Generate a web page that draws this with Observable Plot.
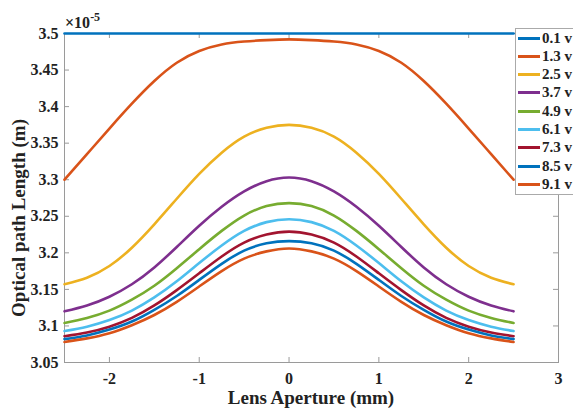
<!DOCTYPE html>
<html>
<head>
<meta charset="utf-8">
<script src="https://cdn.jsdelivr.net/npm/d3@7"></script>
<script src="https://cdn.jsdelivr.net/npm/@observablehq/plot@0.6"></script>
<style>
  html, body { margin: 0; padding: 0; background: #fff; }
  #wrap { position: relative; width: 573px; height: 408px; overflow: hidden; font-family: "Liberation Serif", "Times New Roman", serif; font-weight: bold; color: #222; }
  #chart { position: absolute; left: 0; top: 0; }
  .lbl { position: absolute; white-space: nowrap; font-size: 19px; }
  #ylab { left: 19px; top: 218px; transform: translate(-50%, -50%) rotate(-90deg); }
  #xlab { left: 311px; top: 398px; transform: translate(-50%, -50%); }
  #exp { left: 65px; top: 11px; font-size: 16px; }
  #exp sup { font-size: 12px; position: relative; top: -1px; }
  #legend { position: absolute; left: 515px; top: 28px; width: 70px; height: 167px; border: 1px solid #aaa; background: #fff; box-sizing: border-box; }
  .row { position: absolute; left: 0; height: 18px; display: flex; align-items: center; font-size: 15px; }
  .row .sw { display: inline-block; width: 22px; height: 3px; margin-left: 2px; margin-right: 2px; }
</style>
</head>
<body>
<div id="wrap">
  <div id="chart"></div>
  <div id="exp" class="lbl">×10<sup>-5</sup></div>
  <div id="ylab" class="lbl">Optical path Length (m)</div>
  <div id="xlab" class="lbl">Lens Aperture (mm)</div>
  <div id="legend"></div>
</div>
<script>
// ---- data ----
const aperture = [-2.5, -2.25, -2, -1.75, -1.5, -1.25, -1, -0.75, -0.5, -0.25, 0,
                  0.25, 0.5, 0.75, 1, 1.25, 1.5, 1.75, 2, 2.25, 2.5];
const seriesLabels = ["0.1 v", "1.3 v", "2.5 v", "3.7 v", "4.9 v", "6.1 v", "7.3 v", "8.5 v", "9.1 v"];
const seriesColors = ["#0072BD", "#D95319", "#EDB120", "#7E2F8E", "#77AC30", "#4DBEEE", "#A2142F", "#0072BD", "#D95319"];
const v01 = [3.5, 3.5, 3.5, 3.5, 3.5, 3.5, 3.5, 3.5, 3.5, 3.5, 3.5,
             3.5, 3.5, 3.5, 3.5, 3.5, 3.5, 3.5, 3.5, 3.5, 3.5];
const v13 = [3.300, 3.335, 3.370, 3.404, 3.435, 3.460, 3.476, 3.485, 3.489, 3.491, 3.492,
             3.491, 3.489, 3.485, 3.476, 3.460, 3.435, 3.404, 3.370, 3.335, 3.300];
const v25 = [3.157, 3.166, 3.182, 3.207, 3.239, 3.274, 3.308, 3.337, 3.359, 3.371, 3.375,
             3.371, 3.359, 3.337, 3.308, 3.274, 3.239, 3.207, 3.182, 3.166, 3.157];
const v37 = [3.120, 3.128, 3.140, 3.157, 3.180, 3.208, 3.237, 3.263, 3.284, 3.298, 3.303,
             3.298, 3.284, 3.263, 3.237, 3.208, 3.180, 3.157, 3.140, 3.128, 3.120];
const v49 = [3.104, 3.111, 3.121, 3.136, 3.155, 3.179, 3.205, 3.230, 3.251, 3.264, 3.268,
             3.264, 3.251, 3.230, 3.205, 3.179, 3.155, 3.136, 3.121, 3.111, 3.104];
const v61 = [3.093, 3.099, 3.108, 3.121, 3.139, 3.161, 3.186, 3.210, 3.230, 3.242, 3.246,
             3.242, 3.230, 3.210, 3.186, 3.161, 3.139, 3.121, 3.108, 3.099, 3.093];
const v73 = [3.086, 3.091, 3.099, 3.111, 3.128, 3.149, 3.172, 3.195, 3.214, 3.225, 3.229,
             3.225, 3.214, 3.195, 3.172, 3.149, 3.128, 3.111, 3.099, 3.091, 3.086];
const v85 = [3.082, 3.087, 3.095, 3.106, 3.122, 3.141, 3.163, 3.185, 3.203, 3.213, 3.216,
             3.213, 3.203, 3.185, 3.163, 3.141, 3.122, 3.106, 3.095, 3.087, 3.082];
const v91 = [3.078, 3.083, 3.090, 3.101, 3.115, 3.133, 3.154, 3.175, 3.192, 3.202, 3.206,
             3.202, 3.192, 3.175, 3.154, 3.133, 3.115, 3.101, 3.090, 3.083, 3.078];
const seriesValues = [v01, v13, v25, v37, v49, v61, v73, v85, v91];
const xTicks = [-2, -1, 0, 1, 2, 3];
const yTicks = [3.05, 3.1, 3.15, 3.2, 3.25, 3.3, 3.35, 3.4, 3.45, 3.5];

// ---- table ----
const rows = [];
seriesValues.forEach((vals, s) => {
  vals.forEach((v, i) => rows.push({x: aperture[i], y: v, series: seriesLabels[s], idx: s}));
});

const W = 573, H = 408;
const mL = 64, mR = 15, mT = 33, mB = 46;
const innerH = H - mT - mB, innerW = W - mL - mR;
const fmt = d => String(+d.toFixed(2));
const grid = "#9a9a9a";
const serif = '"Liberation Serif", "Times New Roman", serif';

const chart = Plot.plot({
  width: W, height: H,
  marginLeft: mL, marginRight: mR, marginTop: mT, marginBottom: mB,
  style: {fontFamily: serif, fontWeight: "bold", fontSize: "16px", color: "#222", background: "#fff"},
  x: {domain: [-2.5, 3], ticks: xTicks},
  y: {domain: [3.05, 3.5], ticks: yTicks},
  color: {domain: seriesLabels, range: seriesColors},
  marks: [
    Plot.frame({stroke: grid, strokeWidth: 1}),
    Plot.tickX(xTicks, {x: d => d, stroke: grid, insetTop: innerH - 5}),
    Plot.tickX(xTicks, {x: d => d, stroke: grid, insetBottom: innerH - 5}),
    Plot.tickY(yTicks, {y: d => d, stroke: grid, insetRight: innerW - 5}),
    Plot.tickY(yTicks, {y: d => d, stroke: grid, insetLeft: innerW - 5}),
    Plot.axisX({ticks: xTicks, tickSize: 0, tickPadding: 10, tickFormat: fmt, label: null, fontSize: 16, fontFamily: serif, fontWeight: "bold"}),
    Plot.axisY({ticks: yTicks, tickSize: 0, tickPadding: 6, tickFormat: fmt, label: null, fontSize: 16, fontFamily: serif, fontWeight: "bold"}),
    Plot.line(rows, {x: "x", y: "y", z: "idx", stroke: "series", strokeWidth: 2.6, curve: "natural"})
  ]
});
document.getElementById("chart").appendChild(chart);

// ---- legend ----
const leg = document.getElementById("legend");
seriesLabels.forEach((lab, i) => {
  const r = document.createElement("div");
  r.className = "row";
  r.style.top = (0 + i * 18.3) + "px";
  const sw = document.createElement("span");
  sw.className = "sw";
  sw.style.background = seriesColors[i];
  r.appendChild(sw);
  r.appendChild(document.createTextNode(lab));
  leg.appendChild(r);
});
</script>
</body>
</html>
